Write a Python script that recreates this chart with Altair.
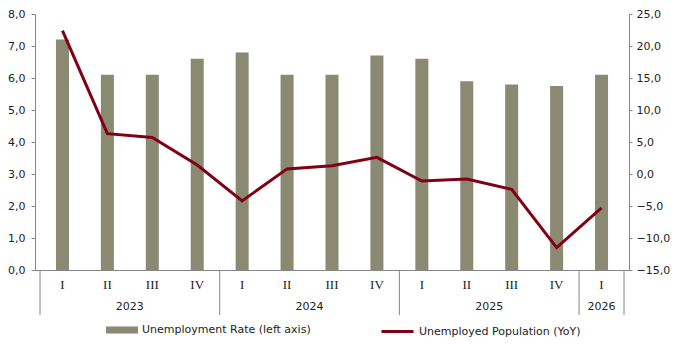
import altair as alt
import pandas as pd

quarters = ["I", "II", "III", "IV", "I", "II", "III", "IV", "I", "II", "III", "IV", "I"]
years = ["2023"] * 4 + ["2024"] * 4 + ["2025"] * 4 + ["2026"]
rate = [7.2, 6.1, 6.1, 6.6, 6.8, 6.1, 6.1, 6.7, 6.6, 5.9, 5.8, 5.75, 6.1]
yoy = [22.4, 6.3, 5.7, 1.4, -4.2, 0.8, 1.3, 2.6, -1.1, -0.8, -2.4, -11.5, -5.3]
year_labels = ["2023", "2024", "2025", "2026"]
year_centers = [1.5, 5.5, 9.5, 12.0]
separators = [-0.5, 3.5, 7.5, 11.5, 12.5]

BAR = "#8A8972"
LINE = "#800014"
GRAY = "#868686"
TXT = "#222222"
SANS = "DejaVu Sans"

W = 594
H = 256
PT, PL = 6, 27
df = pd.DataFrame({"idx": list(range(len(quarters))), "quarter": quarters,
                   "year": years, "rate": rate, "yoy": yoy})
df["s_bar"] = "Unemployment Rate (left axis)"
df["s_line"] = "Unemployed Population (YoY)"
ydf = pd.DataFrame({"pos": year_centers, "label": year_labels})
sdf = pd.DataFrame({"pos": separators})

xscale = alt.Scale(domain=[-0.5, 12.5], nice=False, zero=False)
xaxis = alt.Axis(labels=False, ticks=False, grid=False, domainColor=GRAY, domainWidth=1)
fmt = "replace(format(datum.value, '.1f'), '.', ',')"

bars = alt.Chart(df).mark_bar(size=13).encode(
    x=alt.X("idx:Q", scale=xscale, axis=xaxis, title=None),
    y=alt.Y("rate:Q", scale=alt.Scale(domain=[0, 8], nice=False, zero=True),
            axis=alt.Axis(orient="left", values=list(range(9)), labelExpr=fmt, grid=False,
                          tickSize=4, tickColor=GRAY, domainColor=GRAY, labelPadding=6,
                          labelFont=SANS, labelFontSize=11, labelColor=TXT),
            title=None),
    fill=alt.Fill("s_bar:N", scale=alt.Scale(range=[BAR]),
                  legend=alt.Legend(orient="none", legendX=71, legendY=H + 44, direction="horizontal",
                                    title=None, symbolType="M-1,-0.22H1V0.22H-1Z", symbolSize=1024,
                                    symbolStrokeWidth=0, labelFont=SANS, labelFontSize=11,
                                    labelOffset=4, padding=0, labelColor=TXT, labelLimit=400)),
)

line = alt.Chart(df).mark_line(strokeWidth=3).encode(
    x=alt.X("idx:Q", scale=xscale, axis=xaxis, title=None),
    y=alt.Y("yoy:Q", scale=alt.Scale(domain=[-15, 25], nice=False, zero=False),
            axis=alt.Axis(orient="right", values=list(range(-15, 30, 5)), labelExpr=fmt, grid=False,
                          tickSize=3, tickColor=GRAY, domainColor=GRAY, labelPadding=4,
                          labelFont=SANS, labelFontSize=11, labelColor=TXT),
            title=None),
    stroke=alt.Stroke("s_line:N", scale=alt.Scale(range=[LINE]),
                      legend=alt.Legend(orient="none", legendX=345, legendY=H + 44, direction="horizontal",
                                        title=None, symbolType="stroke", symbolSize=1024,
                                        symbolStrokeWidth=3, labelFont=SANS, labelFontSize=11,
                                        labelOffset=4, padding=0, labelColor=TXT, labelLimit=400)),
)

qtext = alt.Chart(df).mark_text(font="Liberation Serif", fontSize=13, baseline="middle",
                                color=TXT).encode(
    x=alt.X("idx:Q", scale=xscale, axis=xaxis, title=None),
    y=alt.value(H + 15),
    text="quarter:N",
)

ytext = alt.Chart(ydf).mark_text(font=SANS, fontSize=11, baseline="middle", color=TXT).encode(
    x=alt.X("pos:Q", scale=xscale, axis=xaxis, title=None),
    y=alt.value(H + 37),
    text="label:N",
)

seps = alt.Chart(sdf).mark_rule(color=GRAY, strokeWidth=1).encode(
    x=alt.X("pos:Q", scale=xscale, axis=xaxis, title=None),
    y=alt.value(H),
    y2=alt.value(H + 45),
)

chart = alt.layer(bars, line, seps, qtext, ytext).resolve_scale(
    y="independent", fill="independent", stroke="independent"
).properties(
    width=W, height=H,
    autosize=alt.AutoSizeParams(type="none"),
    padding={"left": PL, "top": PT, "right": 662 - PL - W, "bottom": 329 - PT - H},
).configure_view(stroke=None)

chart.save("out.html", embed_options={"renderer": "svg", "actions": False})
